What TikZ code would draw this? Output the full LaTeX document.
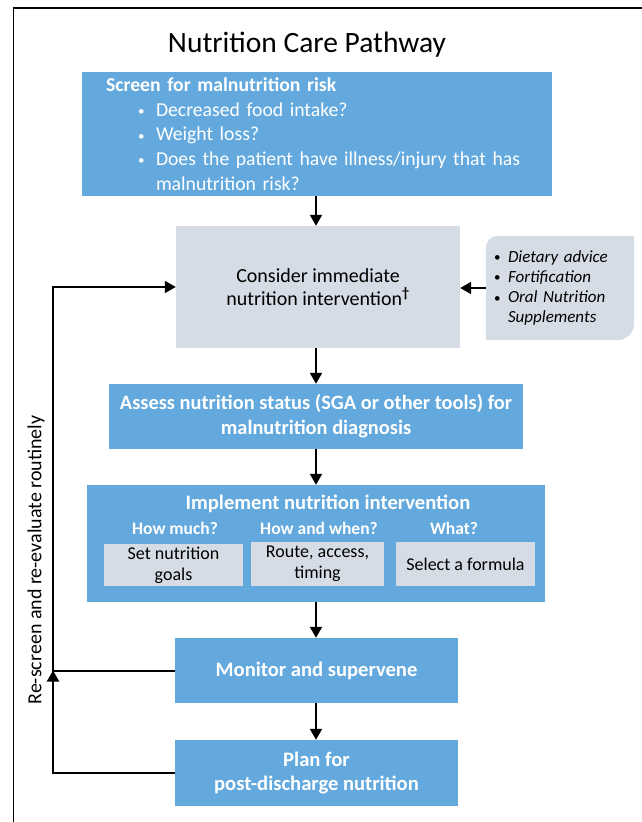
\documentclass[tikz,border=0pt]{standalone}
\usepackage{fontspec}
\setmainfont{Carlito}
\usetikzlibrary{arrows.meta,calc}
\definecolor{bluebox}{HTML}{63A9DD}
\definecolor{graybox}{HTML}{D6DCE5}
\newcommand{\smallbul}{{\fontsize{13}{13}\selectfont\upshape\raisebox{0.5pt}{•}}}
\tikzset{
  bluenode/.style={fill=bluebox, text=white, inner sep=0pt, align=center, font=\bfseries\fontsize{20.4}{25}\selectfont},
  graynode/.style={fill=graybox, text=black, inner sep=0pt, align=center},
  flow/.style={line width=2pt, -{Triangle[length=11pt,width=12pt]}},
}
\begin{document}
\begin{tikzpicture}[x=1pt,y=-1pt]
\useasboundingbox (0,0) rectangle (642,822);
% frame
\draw[line width=1.5pt] (13.5,822) -- (13.5,8) -- (642,8);
% title
\node (title) at (307,45) {\fontsize{29.5}{33}\selectfont Nutrition Care Pathway};
% screen box
\node[fill=bluebox, text=white, inner xsep=24pt, inner ysep=0pt, minimum width=470pt, minimum height=124pt, text width=422pt, align=left, font=\fontsize{19.7}{24.6}\selectfont] (screen) at (317,134)
{\textbf{Screen for malnutrition risk}\\
\hspace*{32pt}\makebox[18pt][l]{\smallbul}Decreased food intake?\\
\hspace*{32pt}\makebox[18pt][l]{\smallbul}Weight loss?\\
\hspace*{32pt}\makebox[18pt][l]{\smallbul}Does the patient have illness/injury that has\\
\hspace*{50pt}malnutrition risk?};
% consider box
\node[graynode, minimum width=284pt, minimum height=122pt, font=\fontsize{20}{22.5}\selectfont] (consider) at (318,287)
{Consider immediate\\nutrition intervention\textsuperscript{\textbf{†}}};
% side box
\node[inner xsep=7pt, inner ysep=0pt, minimum width=148pt, minimum height=104pt] (side) at (560,288) {};
\fill[graybox] (side.north east) -- ([xshift=12pt]side.north west) arc[start angle=90,end angle=180,radius=12pt] -- (side.south west) -- ([xshift=-17pt]side.south east) arc[start angle=270,end angle=360,radius=17pt] -- cycle;
\node[inner sep=0pt, text width=134pt, align=left, font=\itshape\fontsize{17}{20.3}\selectfont, anchor=west] (sidetext) at ([xshift=8pt]side.west)
{\makebox[14pt][l]{\smallbul}Dietary advice\\
\makebox[14pt][l]{\smallbul}Fortification\\
\makebox[14pt][l]{\smallbul}Oral Nutrition\\
\hspace*{14pt}Supplements};
% assess
\node[bluenode, minimum width=414pt, minimum height=65pt] (assess) at (316,416.5)
{Assess nutrition status (SGA or other tools) for\\malnutrition diagnosis};
% implement
\node[bluenode, minimum width=458pt, minimum height=117pt] (impl) at (316,543.5) {};
\node[text=white, font=\bfseries\fontsize{20.6}{22}\selectfont] (impltitle) at (328,504) {Implement nutrition intervention};
\node[text=white, font=\bfseries\fontsize{17.5}{20}\selectfont] (howmuch) at (175,528) {How much?};
\node[text=white, font=\bfseries\fontsize{17.5}{20}\selectfont] (howwhen) at (319,528) {How and when?};
\node[text=white, font=\bfseries\fontsize{17.5}{20}\selectfont] (what) at (454,528) {What?};
\node[graynode, minimum width=139pt, minimum height=42pt, font=\fontsize{18}{21}\selectfont] (sub1) at (173.5,565) {Set nutrition\\goals};
\node[graynode, minimum width=133pt, minimum height=44pt, font=\fontsize{18}{21}\selectfont] (sub2) at (317.5,564) {Route, access,\\timing};
\node[graynode, minimum width=139pt, minimum height=44pt, font=\fontsize{18}{21}\selectfont] (sub3) at (465.5,564) {Select a formula};
% monitor & plan
\node[bluenode, minimum width=283pt, minimum height=65pt, font=\bfseries\fontsize{20.6}{24}\selectfont] (monitor) at (316.5,670.5) {Monitor and supervene};
\node[bluenode, minimum width=283pt, minimum height=66pt, font=\bfseries\fontsize{20.6}{24}\selectfont] (plan) at (316.5,773) {Plan for\\post-discharge nutrition};
% loop label
\node[rotate=90, font=\fontsize{20}{24}\selectfont] (looplabel) at (36,560) {Re-screen and re-evaluate routinely};
% connectors
\coordinate (loopx) at (53,0);
\draw[flow] (screen.south -| 316,0) -- (consider.north -| 316,0);
\draw[flow] (side.west) -- (consider.east |- side.west);
\draw[flow] (consider.south -| 316,0) -- (assess.north -| 316,0);
\draw[flow] (assess.south -| 316,0) -- (impl.north -| 316,0);
\draw[flow] (impl.south -| 316,0) -- (monitor.north -| 316,0);
\draw[flow] (monitor.south -| 316,0) -- (plan.north -| 316,0);
\draw[flow, line join=miter] (plan.west) -- (plan.west -| loopx) -- (monitor.west -| loopx);
\draw[flow, line join=miter] (monitor.west) -- (monitor.west -| loopx) -- (consider.west -| loopx) -- (consider.west);
\end{tikzpicture}
\end{document}
